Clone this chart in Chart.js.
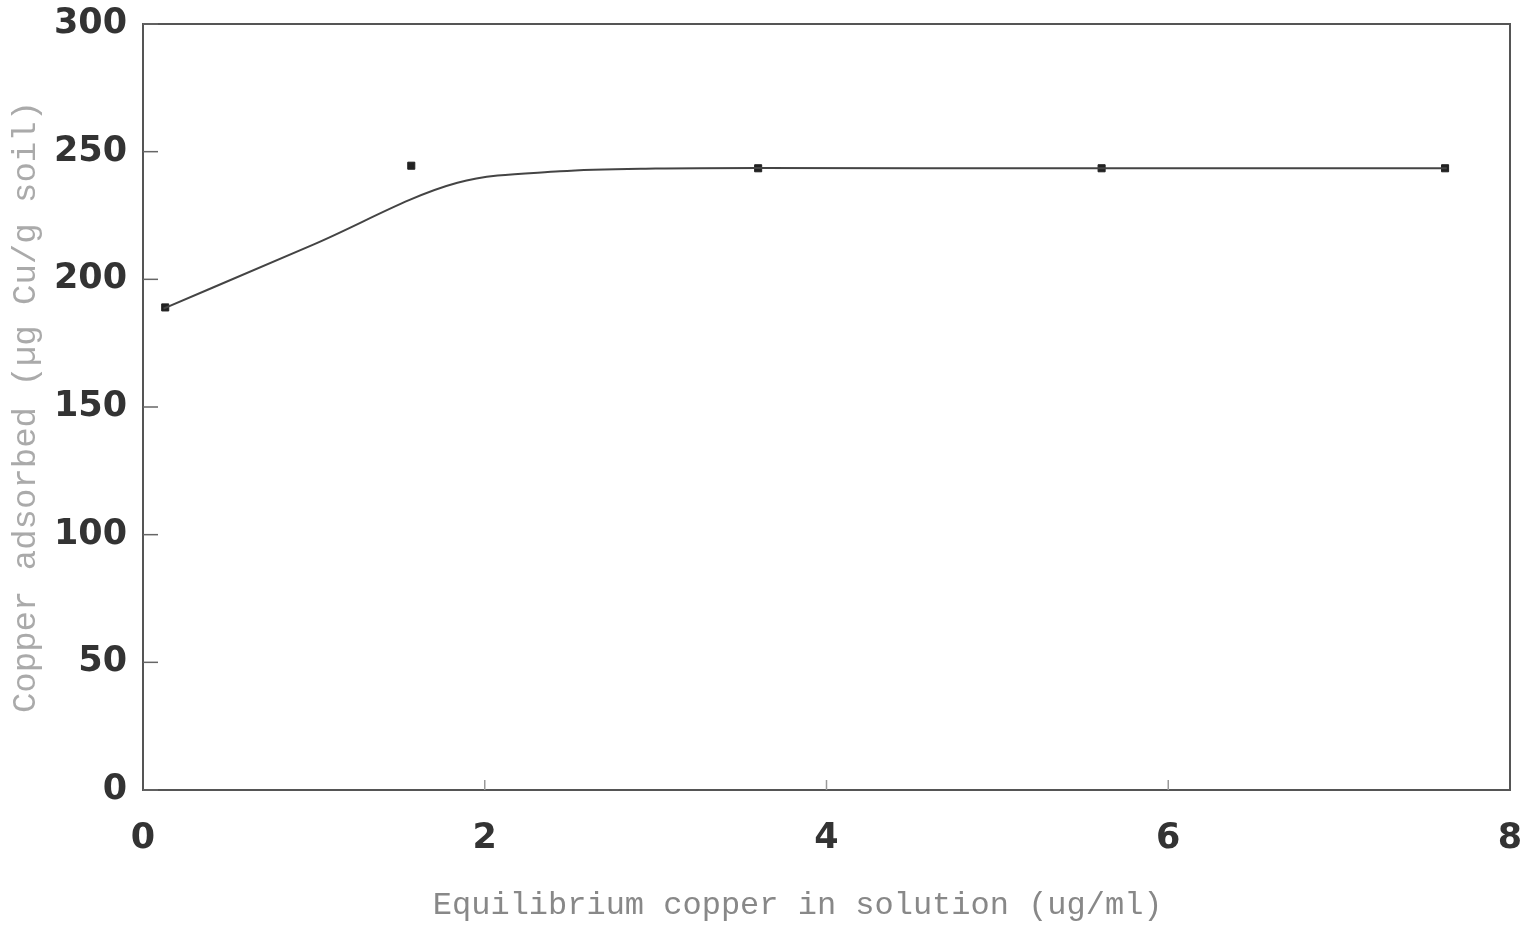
<!DOCTYPE html>
<html>
<head>
<meta charset="utf-8">
<script src="https://cdn.jsdelivr.net/npm/chart.js@4/dist/chart.umd.min.js"></script>
<style>
  html, body { margin: 0; padding: 0; background: #fff; }
  #wrap { width: 1524px; height: 929px; }
</style>
</head>
<body>
<div id="wrap"><canvas id="isoChart" width="1524" height="929"></canvas></div>
<script>
// measured points
const pointX = [0.13, 1.57, 3.60, 5.61, 7.62];
const pointY = [189, 244.5, 243.5, 243.5, 243.5];

// fitted curve
const curveX = [0.12, 1.0, 1.84, 2.44, 3.0, 3.6, 5.5, 7.63];
const curveY = [188.5, 213.7, 237.8, 242.3, 243.4, 243.6, 243.5, 243.5];

const xTicks = [0, 2, 4, 6, 8];
const yTicks = [0, 50, 100, 150, 200, 250, 300];

// box frame + inward tick marks
const frame = {
  id: 'frame',
  afterDraw(chart) {
    const { ctx, chartArea: a, scales } = chart;
    ctx.save();
    ctx.strokeStyle = '#555';
    ctx.lineWidth = 2;
    ctx.strokeRect(a.left, a.top, a.right - a.left, a.bottom - a.top);
    ctx.lineWidth = 1.5;
    ctx.strokeStyle = '#666';
    scales.y.ticks.forEach((t, i) => {
      const y = scales.y.getPixelForTick(i);
      ctx.beginPath();
      ctx.moveTo(a.left, y);
      ctx.lineTo(a.left + 15, y);
      ctx.stroke();
    });
    ctx.strokeStyle = '#999';
    scales.x.ticks.forEach((t, i) => {
      if (i === 0 || i === scales.x.ticks.length - 1) return;
      const x = scales.x.getPixelForTick(i);
      ctx.beginPath();
      ctx.moveTo(x, a.bottom);
      ctx.lineTo(x, a.bottom - 10);
      ctx.stroke();
    });
    ctx.restore();
  }
};

const tickFont = { family: 'DejaVu Sans', size: 35, weight: 'bold' };

new Chart(document.getElementById('isoChart'), {
  type: 'scatter',
  data: {
    datasets: [
      {
        label: 'fit',
        type: 'line',
        data: curveX.map((x, i) => ({ x, y: curveY[i] })),
        borderColor: '#444',
        borderWidth: 2,
        pointRadius: 0,
        cubicInterpolationMode: 'monotone',
        fill: false
      },
      {
        label: 'measured',
        data: pointX.map((x, i) => ({ x, y: pointY[i] })),
        backgroundColor: '#222',
        borderColor: '#222',
        pointStyle: 'rect',
        pointRadius: 5
      }
    ]
  },
  options: {
    responsive: false,
    animation: false,
    layout: { padding: { top: 24, right: 14, left: 0, bottom: 0 } },
    plugins: { legend: { display: false }, tooltip: { enabled: false } },
    scales: {
      x: {
        type: 'linear',
        min: 0, max: 8,
        afterBuildTicks: s => { s.ticks = xTicks.map(v => ({ value: v })); },
        afterFit: s => { s.height = 139; s.paddingLeft = 0; s.paddingRight = 0; },
        grid: { display: false },
        border: { display: false },
        ticks: { font: tickFont, color: '#333', padding: 20 },
        title: {
          display: true,
          text: 'Equilibrium copper in solution (ug/ml)   ',
          font: { family: 'Liberation Mono', size: 32 },
          color: '#888',
          padding: { top: 0, bottom: 4 }
        }
      },
      y: {
        min: 0, max: 300,
        afterBuildTicks: s => { s.ticks = yTicks.map(v => ({ value: v })); },
        afterFit: s => { s.width = 143; s.paddingTop = 0; s.paddingBottom = 0; },
        grid: { display: false },
        border: { display: false },
        ticks: { font: tickFont, color: '#333', padding: 8 },
        title: {
          display: true,
          text: 'Copper adsorbed (µg Cu/g soil)',
          font: { family: 'Liberation Mono', size: 34 },
          color: '#aaa',
          padding: { top: 6, bottom: 0 }
        }
      }
    }
  },
  plugins: [frame]
});
</script>
</body>
</html>
